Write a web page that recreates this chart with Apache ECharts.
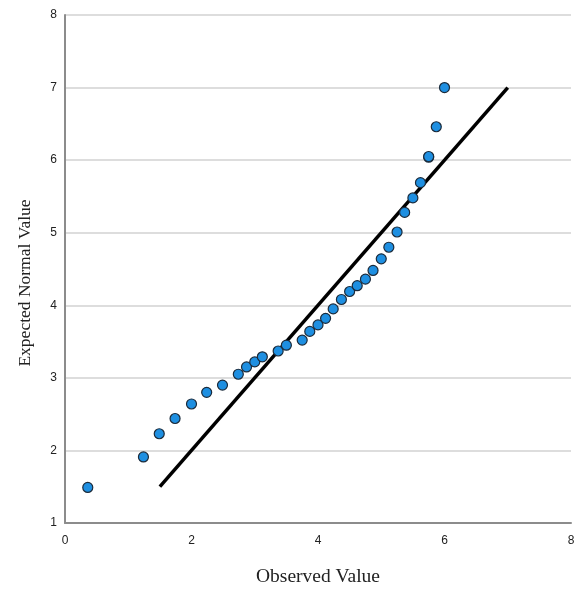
<!DOCTYPE html>
<html>
<head>
<meta charset="utf-8">
<script src="https://cdn.jsdelivr.net/npm/echarts@6/dist/echarts.min.js"></script>
<style>html,body{margin:0;padding:0;background:#fff}#c{width:577px;height:590px}</style>
</head>
<body>
<div id="c"></div>
<script>
const observed = [0.36, 1.24, 1.49, 1.74, 2.0, 2.24, 2.49, 2.74, 2.87, 3.0, 3.12, 3.37, 3.5, 3.75, 3.87, 4.0, 4.12, 4.24, 4.37, 4.5, 4.62, 4.75, 4.87, 5.0, 5.12, 5.25, 5.37, 5.5, 5.62, 5.75, 5.75, 5.87, 6.0];
const expected = [1.49, 1.91, 2.23, 2.44, 2.64, 2.80, 2.90, 3.05, 3.15, 3.22, 3.29, 3.37, 3.45, 3.52, 3.64, 3.73, 3.82, 3.95, 4.08, 4.19, 4.27, 4.36, 4.48, 4.64, 4.80, 5.01, 5.28, 5.48, 5.69, 6.04, 6.05, 6.46, 7.0];
const refLineX = [1.5, 7];
const refLineY = [1.5, 7];

const chart = echarts.init(document.getElementById('c'), null, {renderer: 'canvas'});
chart.setOption({
  animation: false,
  grid: {left: 65, right: 6, top: 15, bottom: 67, containLabel: false, outerBoundsMode: 'none'},
  xAxis: {
    type: 'value', min: 0, max: 8, interval: 2,
    name: 'Observed Value', nameLocation: 'middle', nameGap: 44,
    nameTextStyle: {fontFamily: 'Liberation Serif', fontSize: 19.5, color: '#222'},
    axisLine: {show: true, lineStyle: {color: '#8c8c8c', width: 2}},
    axisTick: {show: false},
    axisLabel: {fontFamily: 'Liberation Sans', fontSize: 12, color: '#222', margin: 12},
    splitLine: {show: false}
  },
  yAxis: {
    type: 'value', min: 1, max: 8, interval: 1,
    name: 'Expected Normal Value', nameLocation: 'middle', nameGap: 31,
    nameTextStyle: {fontFamily: 'Liberation Serif', fontSize: 17.5, color: '#222', padding: [0, 28, 0, 0]},
    axisLine: {show: true, lineStyle: {color: '#8c8c8c', width: 2}},
    axisTick: {show: false},
    axisLabel: {fontFamily: 'Liberation Sans', fontSize: 12, color: '#222', margin: 8, padding: [4, 0, 0, 0]},
    splitLine: {show: true, lineStyle: {color: '#d2d2d2', width: 1.5}}
  },
  series: [
    {
      type: 'line',
      data: refLineX.map((x, i) => [x, refLineY[i]]),
      showSymbol: false,
      lineStyle: {color: '#000', width: 3.5},
      z: 3
    },
    {
      type: 'scatter',
      data: observed.map((x, i) => [x, expected[i]]),
      symbolSize: 10,
      itemStyle: {color: '#1e8fe1', borderColor: '#1b2b3b', borderWidth: 1.2, opacity: 1},
      z: 4
    }
  ]
});
</script>
</body>
</html>
